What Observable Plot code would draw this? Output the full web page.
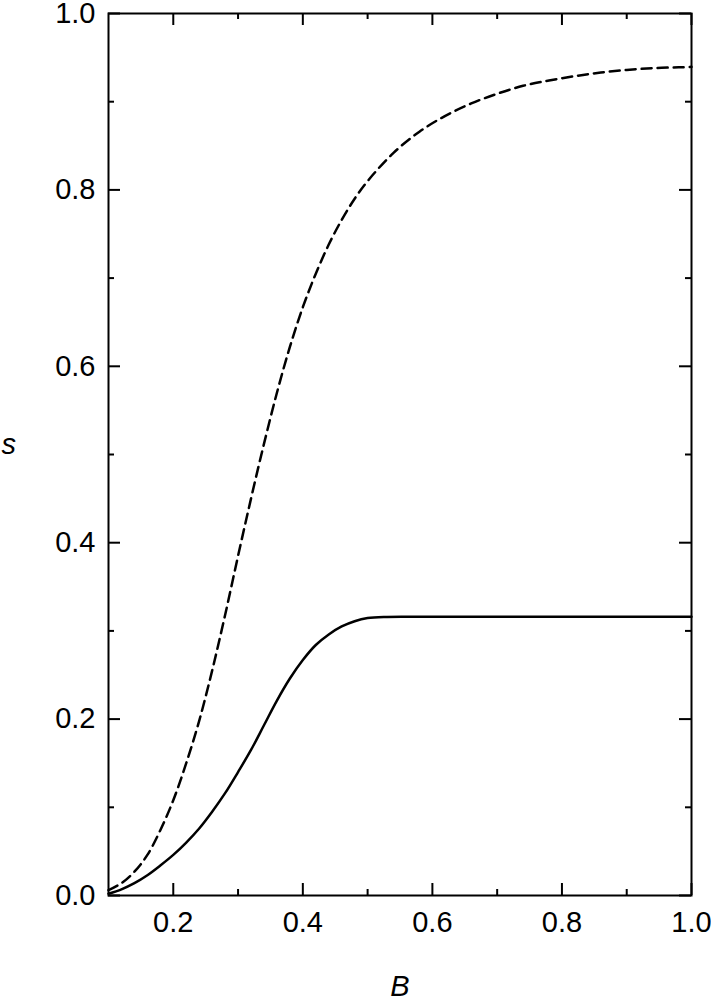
<!DOCTYPE html>
<html>
<head>
<meta charset="utf-8">
<script src="https://cdn.jsdelivr.net/npm/d3@7"></script>
<script src="https://cdn.jsdelivr.net/npm/@observablehq/plot@0.6"></script>
<style>
  body { margin: 0; background: #fff; }
  #chart svg { display: block; }
</style>
</head>
<body>
<div id="chart"></div>
<script>
// dashed curve
const bDashed = [0.100, 0.120, 0.140, 0.160, 0.180, 0.200, 0.220, 0.240, 0.260, 0.280, 0.300, 0.320,
  0.340, 0.360, 0.380, 0.400, 0.420, 0.440, 0.460, 0.480, 0.500, 0.540, 0.580, 0.620, 0.660, 0.700,
  0.740, 0.780, 0.820, 0.860, 0.900, 0.940, 0.980, 1.000];
const sDashed = [0.006, 0.014, 0.027, 0.046, 0.074, 0.108, 0.150, 0.198, 0.255, 0.318, 0.385, 0.450,
  0.512, 0.570, 0.622, 0.667, 0.705, 0.738, 0.766, 0.790, 0.810, 0.842, 0.866, 0.884, 0.898, 0.909,
  0.918, 0.924, 0.929, 0.933, 0.936, 0.938, 0.939, 0.9395];
// solid curve
const bSolid = [0.100, 0.120, 0.140, 0.160, 0.180, 0.200, 0.220, 0.240, 0.260, 0.280, 0.300, 0.320,
  0.340, 0.360, 0.380, 0.400, 0.420, 0.440, 0.460, 0.480, 0.500, 0.530, 0.570, 1.000];
const sSolid = [0.002, 0.007, 0.014, 0.023, 0.034, 0.046, 0.060, 0.076, 0.095, 0.116, 0.140, 0.165,
  0.193, 0.221, 0.246, 0.267, 0.284, 0.296, 0.305, 0.311, 0.3145, 0.3158, 0.316, 0.316];

const xMajor = [0.2, 0.4, 0.6, 0.8, 1.0];
const xMinor = [0.3, 0.5, 0.7, 0.9];
const yMajor = [0, 0.2, 0.4, 0.6, 0.8, 1.0];
const yMinor = [0.1, 0.3, 0.5, 0.7, 0.9];

const W = 711, H = 1000;
const M = { top: 13, right: 20, bottom: 105, left: 108 };
const innerW = W - M.left - M.right;
const innerH = H - M.top - M.bottom;
const MAJOR = 12, MINOR = 6;

const dashed = bDashed.map((b, i) => ({ b, s: sDashed[i] }));
const solid = bSolid.map((b, i) => ({ b, s: sSolid[i] }));
const ink = "#000";

const plot = Plot.plot({
  width: W,
  height: H,
  marginTop: M.top,
  marginRight: M.right,
  marginBottom: M.bottom,
  marginLeft: M.left,
  x: { domain: [0.1, 1.0] },
  y: { domain: [0, 1.0] },
  style: {
    fontFamily: '"Liberation Sans", Arial, sans-serif',
    fontSize: 29,
    color: ink,
    background: "#fff",
  },
  marks: [
    Plot.axisX(xMajor, { tickSize: 0, tickPadding: 16, tickFormat: d3.format(".1f"), label: null, fontSize: 29 }),
    Plot.axisY(yMajor, { tickSize: 0, tickPadding: 13, tickFormat: d3.format(".1f"), label: null, fontSize: 29 }),
    // inward ticks, bottom / top
    Plot.ruleX(xMajor, { insetTop: innerH - MAJOR, stroke: ink, strokeWidth: 2 }),
    Plot.ruleX(xMajor, { insetBottom: innerH - MAJOR, stroke: ink, strokeWidth: 2 }),
    Plot.ruleX(xMinor, { insetTop: innerH - MINOR, stroke: ink, strokeWidth: 2 }),
    Plot.ruleX(xMinor, { insetBottom: innerH - MINOR, stroke: ink, strokeWidth: 2 }),
    // inward ticks, left / right
    Plot.ruleY(yMajor, { insetRight: innerW - MAJOR, stroke: ink, strokeWidth: 2 }),
    Plot.ruleY(yMajor, { insetLeft: innerW - MAJOR, stroke: ink, strokeWidth: 2 }),
    Plot.ruleY(yMinor, { insetRight: innerW - MINOR, stroke: ink, strokeWidth: 2 }),
    Plot.ruleY(yMinor, { insetLeft: innerW - MINOR, stroke: ink, strokeWidth: 2 }),
    Plot.lineY(dashed, { x: "b", y: "s", curve: "catmull-rom", stroke: ink, strokeWidth: 2.5, strokeDasharray: "10,6" }),
    Plot.lineY(solid, { x: "b", y: "s", curve: "catmull-rom", stroke: ink, strokeWidth: 2.5 }),
    Plot.frame({ stroke: ink, strokeWidth: 2 }),
    Plot.text(["B"], { frameAnchor: "bottom", dy: 100, lineAnchor: "bottom", fontStyle: "italic", fontSize: 29, fill: ink }),
    Plot.text(["s"], { frameAnchor: "left", dx: -107, textAnchor: "start", lineAnchor: "bottom", dy: -1, fontStyle: "italic", fontSize: 29, fill: ink }),
  ],
});

document.getElementById("chart").append(plot);
</script>
</body>
</html>
